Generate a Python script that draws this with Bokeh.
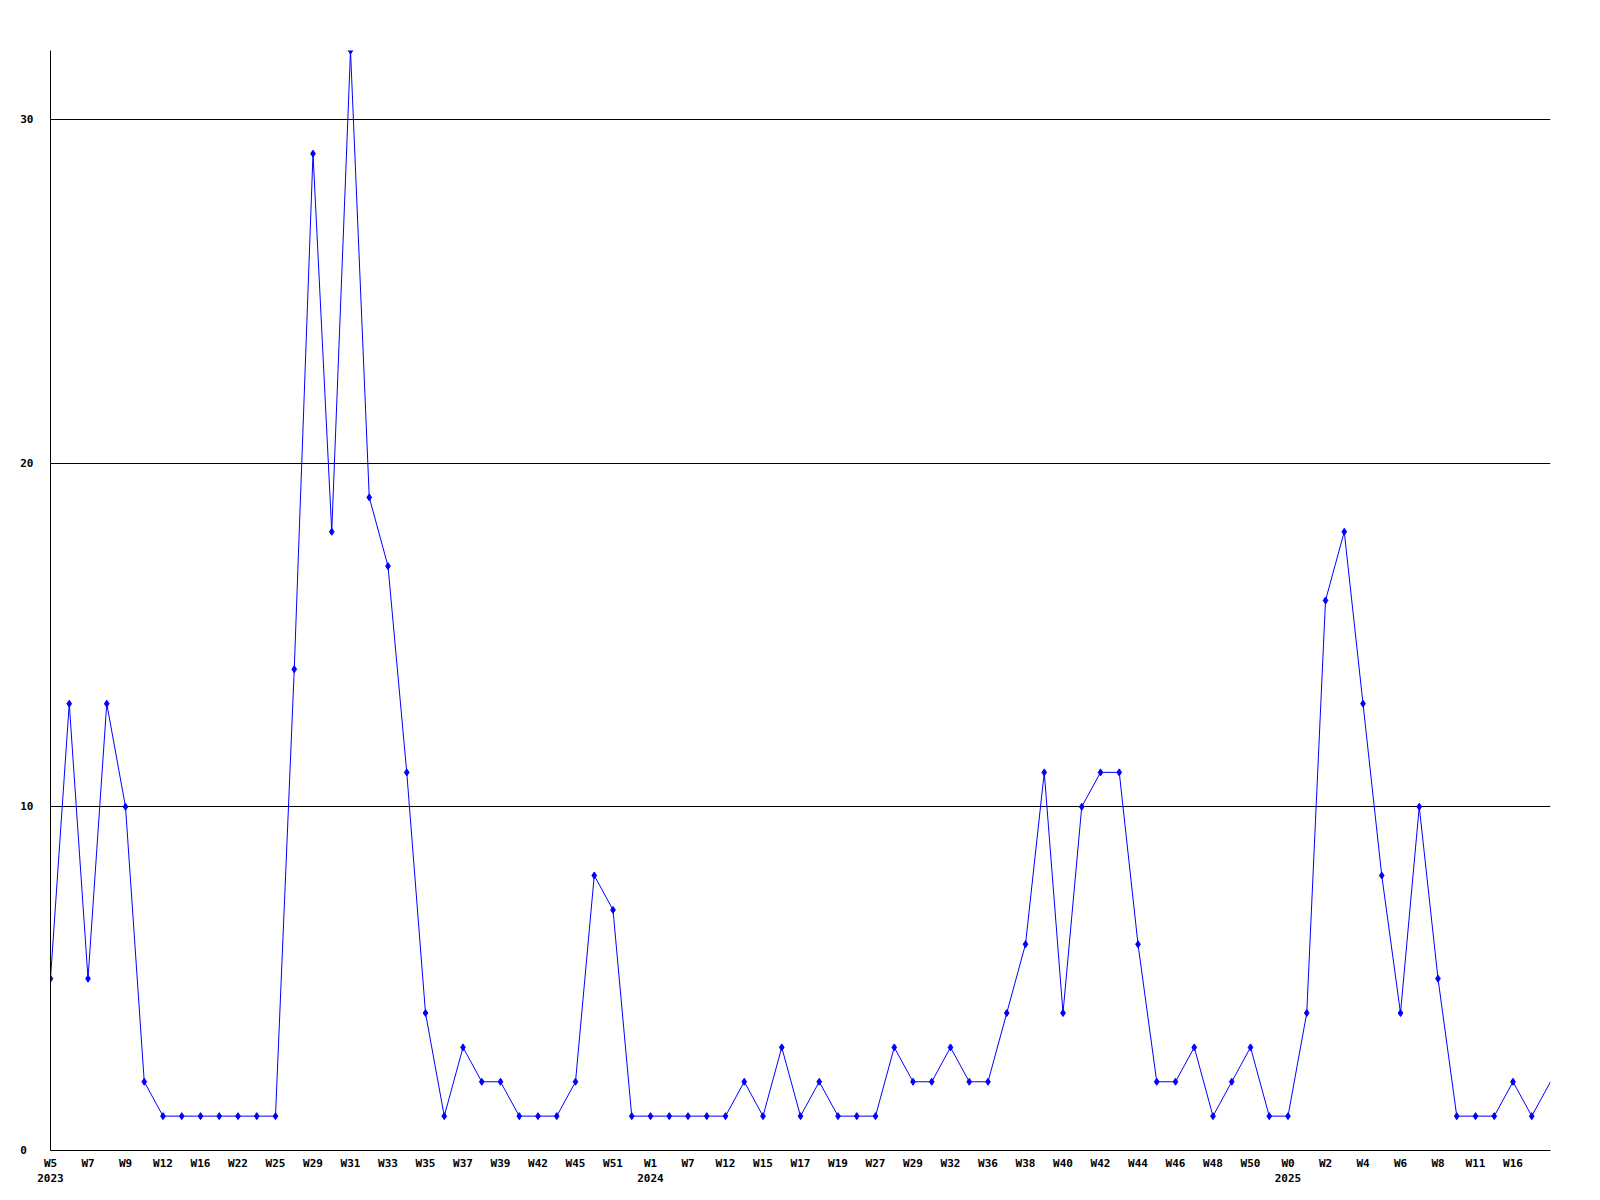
from bokeh.plotting import figure
from bokeh.models import FixedTicker, LinearAxis, Range1d
from bokeh.embed import file_html
from bokeh.resources import INLINE

# Weekly counts (one point per observed week)
values = [5, 13, 5, 13, 10, 2, 1, 1, 1, 1, 1, 1, 1, 14, 29, 18, 32, 19, 17, 11, 4,
          1, 3, 2, 2, 1, 1, 1, 2, 8, 7, 1, 1, 1, 1, 1, 1, 2, 1, 3, 1,
          2, 1, 1, 1, 3, 2, 2, 3, 2, 2, 4, 6, 11, 4, 10, 11, 11, 6, 2, 2,
          3, 1, 2, 3, 1, 1, 4, 16, 18, 13, 8, 4, 10, 5, 1, 1, 1, 2, 1, 2]

# Week labels shown under every second point
week_labels = ["W5", "W7", "W9", "W12", "W16", "W22", "W25", "W29", "W31", "W33",
               "W35", "W37", "W39", "W42", "W45", "W51", "W1", "W7", "W12", "W15",
               "W17", "W19", "W27", "W29", "W32", "W36", "W38", "W40", "W42", "W44",
               "W46", "W48", "W50", "W0", "W2", "W4", "W6", "W8", "W11", "W16"]

# Year labels and the point index where each year starts
years = ["2023", "2024", "2025"]
year_starts = [0, 32, 66]

y_ticks = [0, 10, 20, 30]

xs = list(range(len(values)))
week_ticks = [2 * i for i in range(len(week_labels))]

FONT = "DejaVu Sans Mono"
FSIZE = "11px"

p = figure(frame_width=1500, frame_height=1100, output_backend="svg",
           toolbar_location=None, x_range=Range1d(0, len(values) - 1),
           y_range=Range1d(0, max(values)),
           min_border_left=50, min_border_top=50, min_border_right=30,
           min_border_bottom=40)
p.outline_line_color = None
p.background_fill_color = "white"
p.border_fill_color = "white"

p.line(xs, values, line_color="#0000FF", line_width=1)
p.scatter(xs[:-1], values[:-1], marker="diamond", size=7,
          fill_color="#0000FF", line_color="#0000FF")

# Grid
p.xgrid.visible = False
p.ygrid.ticker = FixedTicker(ticks=y_ticks[1:])
p.ygrid.grid_line_color = "black"
p.ygrid.grid_line_width = 1

# Y axis
p.yaxis.ticker = FixedTicker(ticks=y_ticks)
p.yaxis.major_label_overrides = {t: (str(t) if t >= 10 else str(t) + "\u00a0") for t in y_ticks}
p.yaxis.axis_line_color = "black"
p.yaxis.major_tick_line_color = None
p.yaxis.minor_tick_line_color = None
p.yaxis.major_tick_out = 0
p.yaxis.major_tick_in = 0
p.yaxis.major_label_standoff = 17
p.yaxis.major_label_text_font = FONT
p.yaxis.major_label_text_font_style = "bold"
p.yaxis.major_label_text_font_size = FSIZE
p.yaxis.major_label_text_color = "black"

# X axis (weeks)
p.xaxis.ticker = FixedTicker(ticks=week_ticks)
p.xaxis.major_label_overrides = {t: lab for t, lab in zip(week_ticks, week_labels)}
p.xaxis.axis_line_color = "black"
p.xaxis.major_tick_line_color = None
p.xaxis.minor_tick_line_color = None
p.xaxis.major_tick_out = 0
p.xaxis.major_tick_in = 0
p.xaxis.major_label_standoff = 6
p.xaxis.major_label_text_font = FONT
p.xaxis.major_label_text_font_style = "bold"
p.xaxis.major_label_text_font_size = FSIZE
p.xaxis.major_label_text_color = "black"

# Year axis
yax = LinearAxis(ticker=FixedTicker(ticks=year_starts))
yax.major_label_overrides = {t: y for t, y in zip(year_starts, years)}
yax.axis_line_color = None
yax.major_tick_line_color = None
yax.minor_tick_line_color = None
yax.major_tick_out = 0
yax.major_tick_in = 0
yax.major_label_standoff = 1
yax.major_label_text_font = FONT
yax.major_label_text_font_style = "bold"
yax.major_label_text_font_size = FSIZE
yax.major_label_text_color = "black"
p.add_layout(yax, "below")

open("out.html", "w").write(file_html(p, INLINE))
